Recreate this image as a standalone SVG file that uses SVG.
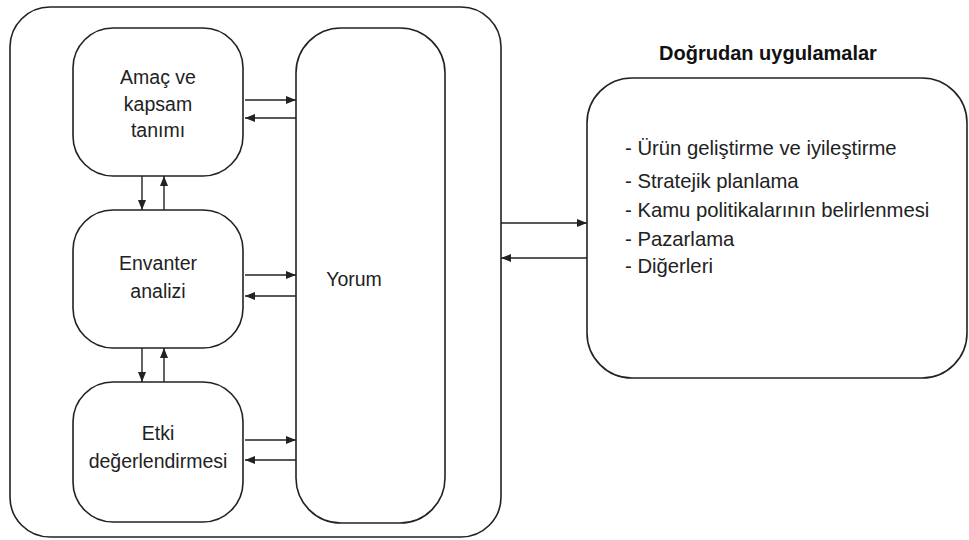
<svg xmlns="http://www.w3.org/2000/svg" width="969" height="540" viewBox="0 0 969 540">
  <style>
    .box { fill: #fff; stroke: #222; stroke-width: 1.6; }
    .lbl { font-family: "Liberation Sans", Arial, sans-serif; font-size: 19.5px; fill: #222; text-anchor: middle; }
    .item { font-family: "Liberation Sans", Arial, sans-serif; font-size: 20.3px; fill: #222; }
    .ttl { font-family: "Liberation Sans", Arial, sans-serif; font-size: 20px; font-weight: bold; fill: #111; text-anchor: middle; }
    .conn { stroke: #222; stroke-width: 1.4; fill: none; marker-end: url(#head); }
  </style>
  <defs>
    <marker id="head" viewBox="0 0 10 8" refX="10" refY="4" markerWidth="11" markerHeight="8" markerUnits="userSpaceOnUse" orient="auto">
      <path d="M0,0 L10,4 L0,8 z" fill="#222"/>
    </marker>
  </defs>
  <rect width="969" height="540" fill="#fff"/>

  <!-- outer frame -->
  <g id="frame">
    <rect class="box" x="10" y="7" width="491" height="530" rx="40" ry="40"/>
  </g>

  <g id="amac">
    <rect class="box" x="73" y="28" width="170" height="148" rx="40" ry="40"/>
    <text class="lbl" x="158" y="84">Amaç ve</text>
    <text class="lbl" x="158" y="111">kapsam</text>
    <text class="lbl" x="158" y="137">tanımı</text>
  </g>

  <g id="envanter">
    <rect class="box" x="73" y="210" width="170" height="138" rx="40" ry="40"/>
    <text class="lbl" x="158" y="270">Envanter</text>
    <text class="lbl" x="158" y="298">analizi</text>
  </g>

  <g id="etki">
    <rect class="box" x="73" y="382" width="170" height="140" rx="40" ry="40"/>
    <text class="lbl" x="158" y="440">Etki</text>
    <text class="lbl" x="158" y="468">değerlendirmesi</text>
  </g>

  <g id="yorum">
    <rect class="box" x="296" y="28" width="149" height="495" rx="45" ry="45"/>
    <text class="lbl" x="354" y="286">Yorum</text>
  </g>

  <g id="uygulamalar">
    <text class="ttl" x="768" y="60">Doğrudan uygulamalar</text>
    <rect class="box" x="587" y="78" width="380" height="300" rx="45" ry="45"/>
    <text class="item" x="625" y="155">- Ürün geliştirme ve iyileştirme</text>
    <text class="item" x="625" y="188">- Stratejik planlama</text>
    <text class="item" x="625" y="217">- Kamu politikalarının belirlenmesi</text>
    <text class="item" x="625" y="246">- Pazarlama</text>
    <text class="item" x="625" y="273">- Diğerleri</text>
  </g>

  <g id="connectors">
    <!-- left boxes to Yorum and back -->
    <line class="conn" x1="245" y1="100" x2="296" y2="100"/>
    <line class="conn" x1="296" y1="118" x2="245" y2="118"/>
    <line class="conn" x1="245" y1="275" x2="296" y2="275"/>
    <line class="conn" x1="296" y1="296" x2="245" y2="296"/>
    <line class="conn" x1="245" y1="440" x2="296" y2="440"/>
    <line class="conn" x1="296" y1="460" x2="245" y2="460"/>
    <!-- vertical links between stages -->
    <line class="conn" x1="142" y1="176" x2="142" y2="210"/>
    <line class="conn" x1="164" y1="210" x2="164" y2="176"/>
    <line class="conn" x1="142" y1="348" x2="142" y2="382"/>
    <line class="conn" x1="164" y1="382" x2="164" y2="348"/>
    <!-- frame to applications and back -->
    <line class="conn" x1="501" y1="223" x2="587" y2="223"/>
    <line class="conn" x1="587" y1="258" x2="501" y2="258"/>
  </g>
</svg>
